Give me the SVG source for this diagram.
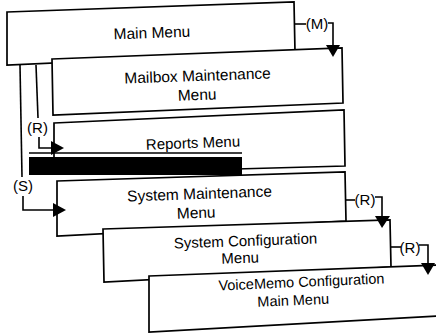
<svg xmlns="http://www.w3.org/2000/svg" width="436" height="335" viewBox="0 0 436 335">
<defs>
<style>
.box{fill:#fff;stroke:#000;stroke-width:1.7;stroke-linejoin:miter}
.ln{fill:none;stroke:#000;stroke-width:1.6}
.hd{fill:#000;stroke:none}
.t{font-family:"Liberation Sans",Arial,sans-serif;fill:#000;text-anchor:middle}
.lb{font-family:"Liberation Sans",Arial,sans-serif;fill:#000;text-anchor:middle;font-size:15px}
</style>
</defs>
<rect width="436" height="335" fill="#fff"/>
<g id="main-menu">
<polygon class="box" points="7,12 294,2 295,52 7,65"/>
<text class="t" x="152" y="38" font-size="15.5" transform="rotate(-2 152 34)">Main Menu</text>
</g>
<g id="mailbox-maintenance-menu">
<polygon class="box" points="52,59 342,48 343,103 53,115"/>
<text class="t" font-size="15.5" transform="rotate(-2 198 90)"><tspan x="198" y="81">Mailbox Maintenance</tspan><tspan x="197" y="100">Menu</tspan></text>
</g>
<g id="reports-menu">
<polygon class="box" points="54,123 344,110 345,166 54,174"/>
<text class="t" x="193" y="148" font-size="15" transform="rotate(-2 193 144)">Reports Menu</text>
<line class="ln" x1="29" y1="153" x2="242" y2="153"/>
<rect x="29" y="157" width="213" height="18" fill="#000"/>
</g>
<g id="system-maintenance-menu">
<polygon class="box" points="57,181 345,172 346,221 57,236"/>
<text class="t" font-size="15.5" transform="rotate(-2 199 208)"><tspan x="200" y="199">System Maintenance</tspan><tspan x="196" y="218">Menu</tspan></text>
</g>
<g id="system-configuration-menu">
<polygon class="box" points="103,229 390,220 391,267 104,282"/>
<text class="t" font-size="15" transform="rotate(-2 244 254)"><tspan x="246" y="246">System Configuration</tspan><tspan x="240" y="263">Menu</tspan></text>
</g>
<g id="voicememo-configuration-main-menu">
<polygon class="box" points="149,276 440,265 440,316 149,332"/>
<text class="t" font-size="14.5" transform="rotate(-2.5 300 295)"><tspan x="302" y="287">VoiceMemo Configuration</tspan><tspan x="293" y="305">Main Menu</tspan></text>
</g>
<g id="connectors">
<polyline class="ln" points="295,24 306,24"/>
<text class="lb" x="317" y="29" font-size="14">(M)</text>
<polyline class="ln" points="328,23 333,23 333,46"/>
<polygon class="hd" points="326,45 340,45 333,57"/>

<polyline class="ln" points="36,65 38,118"/>
<text class="lb" x="37.5" y="133">(R)</text>
<polyline class="ln" points="39,137 39,148 54,148"/>
<polygon class="hd" points="51,141 51,155 64,148"/>

<polyline class="ln" points="20,65 22,177"/>
<text class="lb" x="23" y="191">(S)</text>
<polyline class="ln" points="23,196 23,210 55,210"/>
<polygon class="hd" points="53,203 53,217 66,210"/>

<polyline class="ln" points="346,200 355,200"/>
<text class="lb" x="365" y="205">(R)</text>
<polyline class="ln" points="375,197 382,197 382,217"/>
<polygon class="hd" points="375,216 390,216 382,228"/>

<polyline class="ln" points="391,247 401,247"/>
<text class="lb" x="410" y="253">(R)</text>
<polyline class="ln" points="419,245 428,245 428,264"/>
<polygon class="hd" points="421,263 435,263 428,275"/>
</g>
</svg>
